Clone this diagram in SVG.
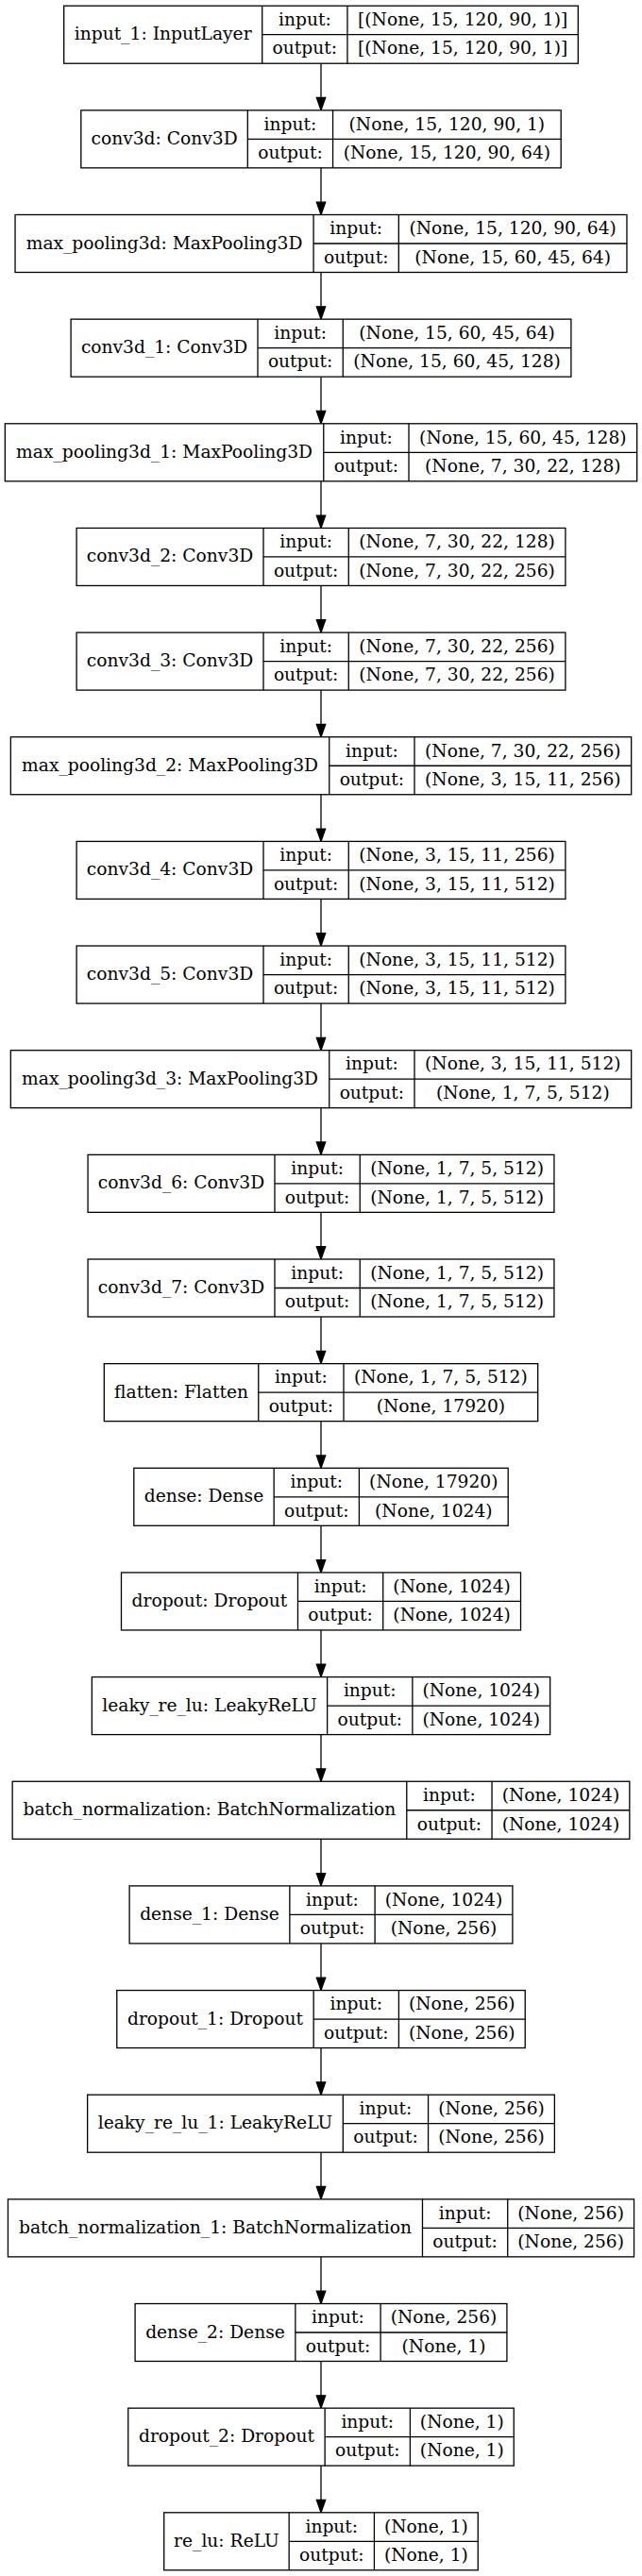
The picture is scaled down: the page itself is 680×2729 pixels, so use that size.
<svg xmlns="http://www.w3.org/2000/svg" width="680" height="2729" viewBox="0 0 680 2729">
<style>
.bx{fill:#fff;stroke:#000;stroke-width:1.3}
.ln{stroke:#000;stroke-width:1.3;fill:none}
text{font-family:"DejaVu Serif",serif;font-size:18.67px;text-anchor:middle;fill:#000}
.e{stroke:#000;stroke-width:1.3;fill:none;marker-end:url(#ah)}
</style>
<defs>
<marker id="ah" markerUnits="userSpaceOnUse" markerWidth="16" markerHeight="12" refX="0" refY="0" orient="auto" overflow="visible">
<path d="M0,-4.67 L13.33,0 L0,4.67 Z" fill="#000" stroke="#000" stroke-width="1.3"/>
</marker>
</defs>
<rect width="680" height="2729" fill="#fff"/>
<g id="connectors">
<line class="e" x1="340" y1="67.2" x2="340" y2="103.52"/>
<line class="e" x1="340" y1="177.85" x2="340" y2="214.17"/>
<line class="e" x1="340" y1="288.5" x2="340" y2="324.82"/>
<line class="e" x1="340" y1="399.15" x2="340" y2="435.47"/>
<line class="e" x1="340" y1="509.8" x2="340" y2="546.12"/>
<line class="e" x1="340" y1="620.45" x2="340" y2="656.77"/>
<line class="e" x1="340" y1="731.1" x2="340" y2="767.42"/>
<line class="e" x1="340" y1="841.75" x2="340" y2="878.07"/>
<line class="e" x1="340" y1="952.4" x2="340" y2="988.72"/>
<line class="e" x1="340" y1="1063.05" x2="340" y2="1099.37"/>
<line class="e" x1="340" y1="1173.7" x2="340" y2="1210.02"/>
<line class="e" x1="340" y1="1284.35" x2="340" y2="1320.67"/>
<line class="e" x1="340" y1="1395" x2="340" y2="1431.32"/>
<line class="e" x1="340" y1="1505.65" x2="340" y2="1541.97"/>
<line class="e" x1="340" y1="1616.3" x2="340" y2="1652.62"/>
<line class="e" x1="340" y1="1726.95" x2="340" y2="1763.27"/>
<line class="e" x1="340" y1="1837.6" x2="340" y2="1873.92"/>
<line class="e" x1="340" y1="1948.25" x2="340" y2="1984.57"/>
<line class="e" x1="340" y1="2058.9" x2="340" y2="2095.22"/>
<line class="e" x1="340" y1="2169.55" x2="340" y2="2205.87"/>
<line class="e" x1="340" y1="2280.2" x2="340" y2="2316.52"/>
<line class="e" x1="340" y1="2390.85" x2="340" y2="2427.17"/>
<line class="e" x1="340" y1="2501.5" x2="340" y2="2537.82"/>
<line class="e" x1="340" y1="2612.15" x2="340" y2="2648.47"/>
</g>

<g id="input_1" transform="translate(0,6.2)">
<rect class="bx" x="67.68" y="0" width="544.64" height="61"/>
<path class="ln" d="M277.71,0V61M367.96,0V61M277.71,30.5H612.32"/>
<text x="172.70" y="36">input_1: InputLayer</text>
<text x="322.84" y="20.75">input:</text>
<text x="322.84" y="51.25">output:</text>
<text x="490.14" y="20.75">[(None, 15, 120, 90, 1)]</text>
<text x="490.14" y="51.25">[(None, 15, 120, 90, 1)]</text>
</g>

<g id="conv3d" transform="translate(0,116.85)">
<rect class="bx" x="85.80" y="0" width="508.40" height="61"/>
<path class="ln" d="M262.31,0V61M352.56,0V61M262.31,30.5H594.20"/>
<text x="174.06" y="36">conv3d: Conv3D</text>
<text x="307.44" y="20.75">input:</text>
<text x="307.44" y="51.25">output:</text>
<text x="473.38" y="20.75">(None, 15, 120, 90, 1)</text>
<text x="473.38" y="51.25">(None, 15, 120, 90, 64)</text>
</g>

<g id="max_pooling3d" transform="translate(0,227.5)">
<rect class="bx" x="16.04" y="0" width="647.92" height="61"/>
<path class="ln" d="M332.07,0V61M422.32,0V61M332.07,30.5H663.96"/>
<text x="174.06" y="36">max_pooling3d: MaxPooling3D</text>
<text x="377.20" y="20.75">input:</text>
<text x="377.20" y="51.25">output:</text>
<text x="543.14" y="20.75">(None, 15, 120, 90, 64)</text>
<text x="543.14" y="51.25">(None, 15, 60, 45, 64)</text>
</g>

<g id="conv3d_1" transform="translate(0,338.15)">
<rect class="bx" x="75.10" y="0" width="529.80" height="61"/>
<path class="ln" d="M273.01,0V61M363.26,0V61M273.01,30.5H604.90"/>
<text x="174.06" y="36">conv3d_1: Conv3D</text>
<text x="318.14" y="20.75">input:</text>
<text x="318.14" y="51.25">output:</text>
<text x="484.08" y="20.75">(None, 15, 60, 45, 64)</text>
<text x="484.08" y="51.25">(None, 15, 60, 45, 128)</text>
</g>

<g id="max_pooling3d_1" transform="translate(0,448.8)">
<rect class="bx" x="5.34" y="0" width="669.32" height="61"/>
<path class="ln" d="M342.77,0V61M433.02,0V61M342.77,30.5H674.66"/>
<text x="174.06" y="36">max_pooling3d_1: MaxPooling3D</text>
<text x="387.90" y="20.75">input:</text>
<text x="387.90" y="51.25">output:</text>
<text x="553.84" y="20.75">(None, 15, 60, 45, 128)</text>
<text x="553.84" y="51.25">(None, 7, 30, 22, 128)</text>
</g>

<g id="conv3d_2" transform="translate(0,559.45)">
<rect class="bx" x="81.09" y="0" width="517.82" height="61"/>
<path class="ln" d="M279.00,0V61M369.25,0V61M279.00,30.5H598.91"/>
<text x="180.05" y="36">conv3d_2: Conv3D</text>
<text x="324.13" y="20.75">input:</text>
<text x="324.13" y="51.25">output:</text>
<text x="484.08" y="20.75">(None, 7, 30, 22, 128)</text>
<text x="484.08" y="51.25">(None, 7, 30, 22, 256)</text>
</g>

<g id="conv3d_3" transform="translate(0,670.1)">
<rect class="bx" x="81.09" y="0" width="517.82" height="61"/>
<path class="ln" d="M279.00,0V61M369.25,0V61M279.00,30.5H598.91"/>
<text x="180.05" y="36">conv3d_3: Conv3D</text>
<text x="324.13" y="20.75">input:</text>
<text x="324.13" y="51.25">output:</text>
<text x="484.08" y="20.75">(None, 7, 30, 22, 256)</text>
<text x="484.08" y="51.25">(None, 7, 30, 22, 256)</text>
</g>

<g id="max_pooling3d_2" transform="translate(0,780.75)">
<rect class="bx" x="11.33" y="0" width="657.34" height="61"/>
<path class="ln" d="M348.76,0V61M439.01,0V61M348.76,30.5H668.67"/>
<text x="180.05" y="36">max_pooling3d_2: MaxPooling3D</text>
<text x="393.89" y="20.75">input:</text>
<text x="393.89" y="51.25">output:</text>
<text x="553.84" y="20.75">(None, 7, 30, 22, 256)</text>
<text x="553.84" y="51.25">(None, 3, 15, 11, 256)</text>
</g>

<g id="conv3d_4" transform="translate(0,891.4)">
<rect class="bx" x="81.09" y="0" width="517.82" height="61"/>
<path class="ln" d="M279.00,0V61M369.25,0V61M279.00,30.5H598.91"/>
<text x="180.05" y="36">conv3d_4: Conv3D</text>
<text x="324.13" y="20.75">input:</text>
<text x="324.13" y="51.25">output:</text>
<text x="484.08" y="20.75">(None, 3, 15, 11, 256)</text>
<text x="484.08" y="51.25">(None, 3, 15, 11, 512)</text>
</g>

<g id="conv3d_5" transform="translate(0,1002.05)">
<rect class="bx" x="81.09" y="0" width="517.82" height="61"/>
<path class="ln" d="M279.00,0V61M369.25,0V61M279.00,30.5H598.91"/>
<text x="180.05" y="36">conv3d_5: Conv3D</text>
<text x="324.13" y="20.75">input:</text>
<text x="324.13" y="51.25">output:</text>
<text x="484.08" y="20.75">(None, 3, 15, 11, 512)</text>
<text x="484.08" y="51.25">(None, 3, 15, 11, 512)</text>
</g>

<g id="max_pooling3d_3" transform="translate(0,1112.7)">
<rect class="bx" x="11.33" y="0" width="657.34" height="61"/>
<path class="ln" d="M348.76,0V61M439.01,0V61M348.76,30.5H668.67"/>
<text x="180.05" y="36">max_pooling3d_3: MaxPooling3D</text>
<text x="393.89" y="20.75">input:</text>
<text x="393.89" y="51.25">output:</text>
<text x="553.84" y="20.75">(None, 3, 15, 11, 512)</text>
<text x="553.84" y="51.25">(None, 1, 7, 5, 512)</text>
</g>

<g id="conv3d_6" transform="translate(0,1223.35)">
<rect class="bx" x="93.08" y="0" width="493.85" height="61"/>
<path class="ln" d="M290.99,0V61M381.24,0V61M290.99,30.5H586.93"/>
<text x="192.03" y="36">conv3d_6: Conv3D</text>
<text x="336.12" y="20.75">input:</text>
<text x="336.12" y="51.25">output:</text>
<text x="484.09" y="20.75">(None, 1, 7, 5, 512)</text>
<text x="484.09" y="51.25">(None, 1, 7, 5, 512)</text>
</g>

<g id="conv3d_7" transform="translate(0,1334)">
<rect class="bx" x="93.08" y="0" width="493.85" height="61"/>
<path class="ln" d="M290.99,0V61M381.24,0V61M290.99,30.5H586.93"/>
<text x="192.03" y="36">conv3d_7: Conv3D</text>
<text x="336.12" y="20.75">input:</text>
<text x="336.12" y="51.25">output:</text>
<text x="484.09" y="20.75">(None, 1, 7, 5, 512)</text>
<text x="484.09" y="51.25">(None, 1, 7, 5, 512)</text>
</g>

<g id="flatten" transform="translate(0,1444.65)">
<rect class="bx" x="110.31" y="0" width="459.39" height="61"/>
<path class="ln" d="M273.76,0V61M364.01,0V61M273.76,30.5H569.70"/>
<text x="192.03" y="36">flatten: Flatten</text>
<text x="318.89" y="20.75">input:</text>
<text x="318.89" y="51.25">output:</text>
<text x="466.86" y="20.75">(None, 1, 7, 5, 512)</text>
<text x="466.86" y="51.25">(None, 17920)</text>
</g>

<g id="dense" transform="translate(0,1555.3)">
<rect class="bx" x="141.80" y="0" width="396.40" height="61"/>
<path class="ln" d="M290.16,0V61M380.41,0V61M290.16,30.5H538.20"/>
<text x="215.98" y="36">dense: Dense</text>
<text x="335.29" y="20.75">input:</text>
<text x="335.29" y="51.25">output:</text>
<text x="459.31" y="20.75">(None, 17920)</text>
<text x="459.31" y="51.25">(None, 1024)</text>
</g>

<g id="dropout" transform="translate(0,1665.95)">
<rect class="bx" x="128.48" y="0" width="423.04" height="61"/>
<path class="ln" d="M315.47,0V61M405.72,0V61M315.47,30.5H551.52"/>
<text x="221.97" y="36">dropout: Dropout</text>
<text x="360.60" y="20.75">input:</text>
<text x="360.60" y="51.25">output:</text>
<text x="478.62" y="20.75">(None, 1024)</text>
<text x="478.62" y="51.25">(None, 1024)</text>
</g>

<g id="leaky_re_lu" transform="translate(0,1776.6)">
<rect class="bx" x="97.34" y="0" width="485.33" height="61"/>
<path class="ln" d="M346.62,0V61M436.87,0V61M346.62,30.5H582.67"/>
<text x="221.97" y="36">leaky_re_lu: LeakyReLU</text>
<text x="391.75" y="20.75">input:</text>
<text x="391.75" y="51.25">output:</text>
<text x="509.77" y="20.75">(None, 1024)</text>
<text x="509.77" y="51.25">(None, 1024)</text>
</g>

<g id="batch_normalization" transform="translate(0,1887.25)">
<rect class="bx" x="13.17" y="0" width="653.67" height="61"/>
<path class="ln" d="M430.79,0V61M521.04,0V61M430.79,30.5H666.84"/>
<text x="221.97" y="36">batch_normalization: BatchNormalization</text>
<text x="475.92" y="20.75">input:</text>
<text x="475.92" y="51.25">output:</text>
<text x="593.94" y="20.75">(None, 1024)</text>
<text x="593.94" y="51.25">(None, 1024)</text>
</g>

<g id="dense_1" transform="translate(0,1997.9)">
<rect class="bx" x="137.10" y="0" width="405.81" height="61"/>
<path class="ln" d="M306.86,0V61M397.11,0V61M306.86,30.5H542.91"/>
<text x="221.97" y="36">dense_1: Dense</text>
<text x="351.99" y="20.75">input:</text>
<text x="351.99" y="51.25">output:</text>
<text x="470.01" y="20.75">(None, 1024)</text>
<text x="470.01" y="51.25">(None, 256)</text>
</g>

<g id="dropout_1" transform="translate(0,2108.55)">
<rect class="bx" x="123.77" y="0" width="432.46" height="61"/>
<path class="ln" d="M332.16,0V61M422.41,0V61M332.16,30.5H556.23"/>
<text x="227.96" y="36">dropout_1: Dropout</text>
<text x="377.29" y="20.75">input:</text>
<text x="377.29" y="51.25">output:</text>
<text x="489.32" y="20.75">(None, 256)</text>
<text x="489.32" y="51.25">(None, 256)</text>
</g>

<g id="leaky_re_lu_1" transform="translate(0,2219.2)">
<rect class="bx" x="92.63" y="0" width="494.75" height="61"/>
<path class="ln" d="M363.31,0V61M453.56,0V61M363.31,30.5H587.38"/>
<text x="227.96" y="36">leaky_re_lu_1: LeakyReLU</text>
<text x="408.44" y="20.75">input:</text>
<text x="408.44" y="51.25">output:</text>
<text x="520.47" y="20.75">(None, 256)</text>
<text x="520.47" y="51.25">(None, 256)</text>
</g>

<g id="batch_normalization_1" transform="translate(0,2329.85)">
<rect class="bx" x="8.46" y="0" width="663.09" height="61"/>
<path class="ln" d="M447.48,0V61M537.73,0V61M447.48,30.5H671.55"/>
<text x="227.96" y="36">batch_normalization_1: BatchNormalization</text>
<text x="492.61" y="20.75">input:</text>
<text x="492.61" y="51.25">output:</text>
<text x="604.64" y="20.75">(None, 256)</text>
<text x="604.64" y="51.25">(None, 256)</text>
</g>

<g id="dense_2" transform="translate(0,2440.5)">
<rect class="bx" x="143.09" y="0" width="393.83" height="61"/>
<path class="ln" d="M312.85,0V61M403.10,0V61M312.85,30.5H536.92"/>
<text x="227.96" y="36">dense_2: Dense</text>
<text x="357.98" y="20.75">input:</text>
<text x="357.98" y="51.25">output:</text>
<text x="470.01" y="20.75">(None, 256)</text>
<text x="470.01" y="51.25">(None, 1)</text>
</g>

<g id="dropout_2" transform="translate(0,2551.15)">
<rect class="bx" x="135.75" y="0" width="408.50" height="61"/>
<path class="ln" d="M344.14,0V61M434.39,0V61M344.14,30.5H544.25"/>
<text x="239.94" y="36">dropout_2: Dropout</text>
<text x="389.27" y="20.75">input:</text>
<text x="389.27" y="51.25">output:</text>
<text x="489.32" y="20.75">(None, 1)</text>
<text x="489.32" y="51.25">(None, 1)</text>
</g>

<g id="re_lu" transform="translate(0,2661.8)">
<rect class="bx" x="173.72" y="0" width="332.56" height="61"/>
<path class="ln" d="M306.17,0V61M396.42,0V61M306.17,30.5H506.28"/>
<text x="239.94" y="36">re_lu: ReLU</text>
<text x="351.30" y="20.75">input:</text>
<text x="351.30" y="51.25">output:</text>
<text x="451.35" y="20.75">(None, 1)</text>
<text x="451.35" y="51.25">(None, 1)</text>
</g>
</svg>
